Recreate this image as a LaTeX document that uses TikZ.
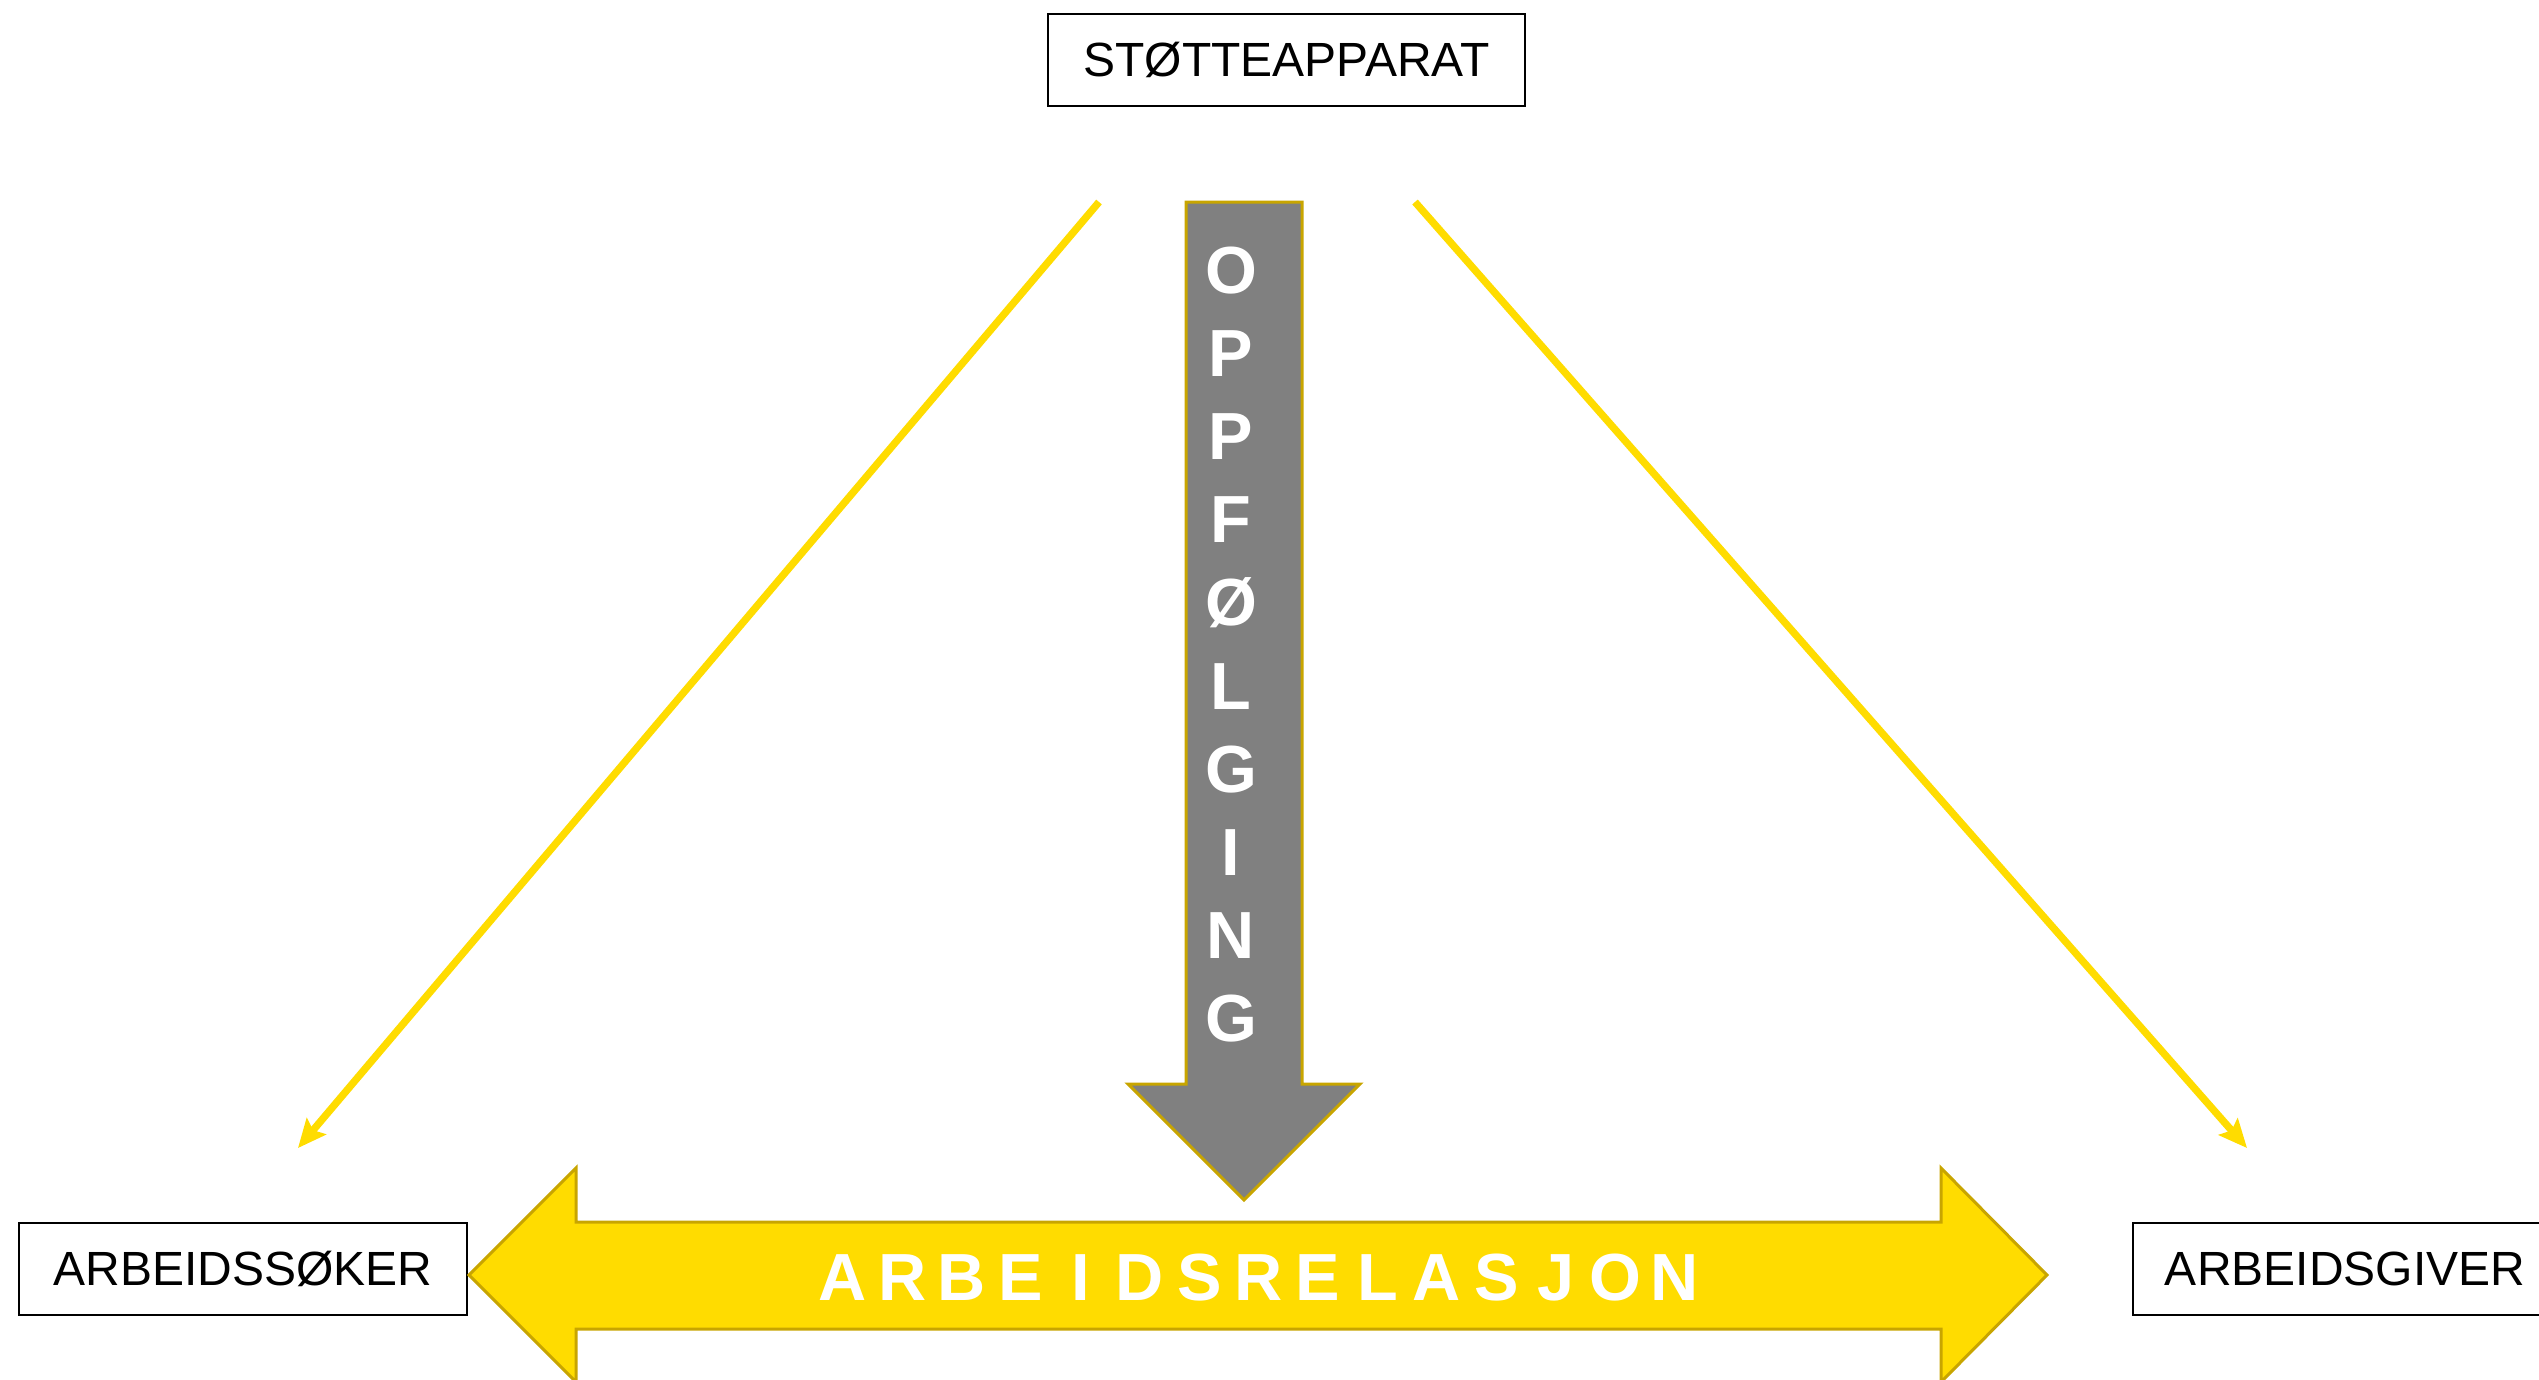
\documentclass[tikz,border=0pt]{standalone}
\usepackage{fontspec}
\setmainfont{Liberation Sans}
\usetikzlibrary{arrows.meta}
\definecolor{ylw}{HTML}{FFDC00}
\definecolor{ylwedge}{HTML}{C8A500}
\definecolor{gry}{HTML}{808080}
\begin{document}
\begin{tikzpicture}[x=0.3pt,y=-0.3pt,
  labelbox/.style={draw=black,line width=0.6pt,fill=white,inner sep=0pt,outer sep=0pt,
    minimum height=27.6pt,font=\fontsize{14.4pt}{17pt}\selectfont},
  biglet/.style={text=white,inner sep=0pt,anchor=base,font=\fontsize{20pt}{22pt}\selectfont\bfseries},
  thinarrow/.style={draw=ylw,line width=2.2pt,-{Stealth[length=8.5pt,width=7.5pt,inset=1.5pt]}}]
\useasboundingbox (0,0) rectangle (2539,1379);
% boxes
\node[labelbox,minimum width=143.1pt] (stotte) at (1286.5,60) {STØTTEAPPARAT};
\node[labelbox,minimum width=134.4pt] (soker) at (243,1269) {ARBEIDSSØKER};
\node[labelbox,minimum width=127.2pt] (giver) at (2345,1269) {ARBEIDSGIVER};
% thin yellow arrows
\coordinate (la) at (1099,202);
\coordinate (lb) at (298,1148);
\coordinate (ra) at (1415,202);
\coordinate (rb) at (2247,1148);
\draw[thinarrow] (la) -- (lb);
\draw[thinarrow] (ra) -- (rb);
% gray down arrow
\draw[fill=gry,draw=ylwedge,line width=0.9pt]
  (1186,202) -- (1302,202) -- (1302,1084) -- (1360,1084) -- (1244,1200)
  -- (1128,1084) -- (1186,1084) -- cycle;
% yellow double arrow
\draw[fill=ylw,draw=ylwedge,line width=0.9pt]
  (469,1275) -- (576,1168) -- (576,1222) -- (1941,1222) -- (1941,1168)
  -- (2047,1275) -- (1941,1382) -- (1941,1329) -- (576,1329) -- (576,1382) -- cycle;
% vertical letters
\foreach \l [count=\i from 0] in {O,P,P,F,Ø,L,G,I,N,G}
  \node[biglet] (v\i) at (1231,{293+83.2*\i}) {\l};
% horizontal letters
\foreach \l [count=\i from 0] in {A,R,B,E,I,D,S,R,E,L,A,S,J,O,N}
  \node[biglet] (h\i) at ({843+59.4*\i},1300) {\l};
\end{tikzpicture}
\end{document}
